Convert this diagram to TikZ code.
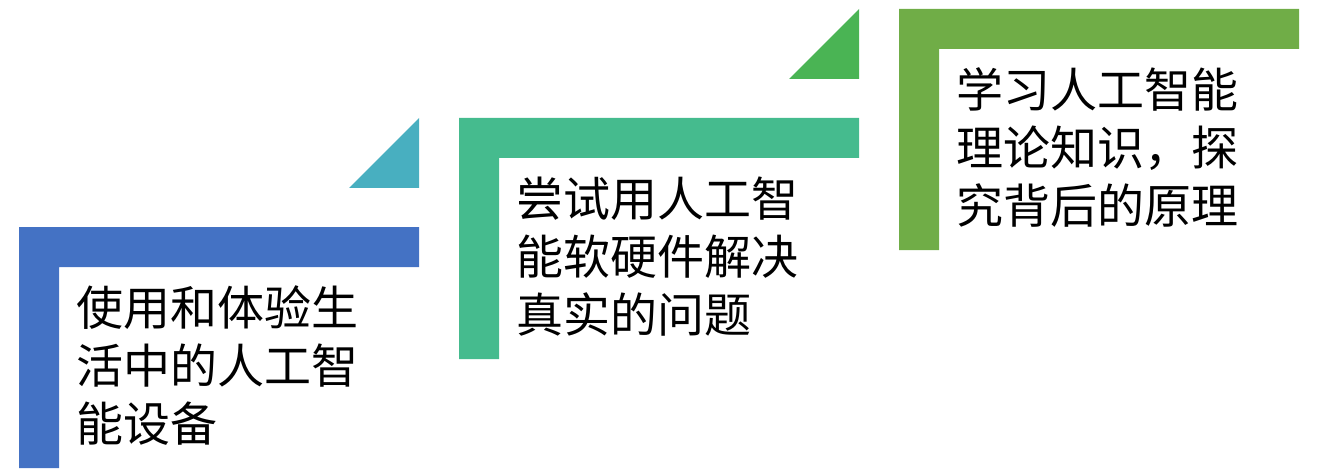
\documentclass[tikz,border=0pt]{standalone}
\usepackage{fontspec}
\newfontfamily\cjk{Noto Sans CJK SC}
\usepackage{tikz}
\definecolor{stepblue}{RGB}{68,114,196}
\definecolor{stepteal}{RGB}{69,187,142}
\definecolor{stepgreen}{RGB}{112,173,71}
\definecolor{tritea}{RGB}{72,175,192}
\definecolor{trigreen}{RGB}{74,180,84}
\tikzstyle{steptext}=[anchor=north west, inner sep=0pt, align=left, font=\cjk\fontsize{47}{58}\selectfont]

\begin{document}
\begin{tikzpicture}[x=1pt, y=-1pt]
		   \useasboundingbox (0, 0) rectangle (1330, 473);
		   \begin{scope}
			   % L shapes
			   \fill[stepblue] (19, 227) -- (419, 227) -- (419, 267) -- (59, 267) -- (59, 468) -- (19, 468) -- cycle;
			   \fill[stepteal] (459, 118) -- (859, 118) -- (859, 158) -- (499, 158) -- (499, 359) -- (459, 359) -- cycle;
			   \fill[stepgreen] (899, 9) -- (1299, 9) -- (1299, 49) -- (939, 49) -- (939, 250) -- (899, 250) -- cycle;
		   \end{scope}
		   \begin{scope}
			   % triangles
			   \fill[tritea] (349, 188) -- (419, 118) -- (419, 188) -- cycle;
			   \fill[trigreen] (789, 79) -- (859, 9) -- (859, 79) -- cycle;
		   \end{scope}
		   \begin{scope}
			   \node (use) at (76, 285)[steptext] {使用和体验生\\活中的人工智\\能设备};
			   \node (try) at (516, 177)[steptext] {尝试用人工智\\能软硬件解决\\真实的问题};
			   \node (learn) at (956, 67)[steptext] {学习人工智能\\理论知识，探\\究背后的原理};
		   \end{scope}
	   \end{tikzpicture}
\end{document}
